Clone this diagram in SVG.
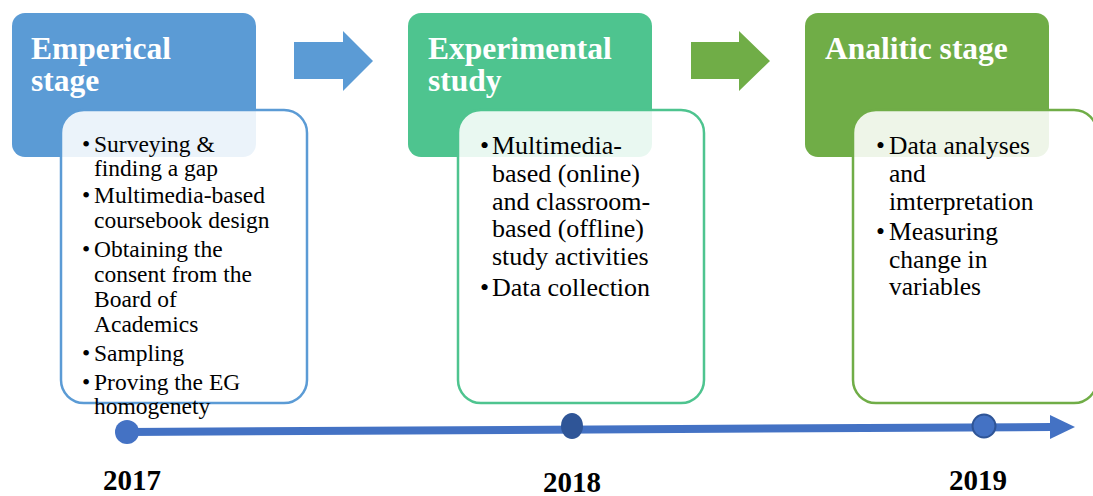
<svg xmlns="http://www.w3.org/2000/svg" width="1093" height="496" viewBox="0 0 1093 496">
<style>
text{font-family:"Liberation Serif","Times New Roman",Tinos,"DejaVu Serif","Noto Serif",serif}
.hd{font-weight:bold;font-size:31.5px;fill:#ffffff}
.bt text{fill:#000000;font-weight:normal;font-style:normal}
.yr{font-weight:bold;font-size:29px;fill:#000000;text-anchor:middle}
.card{fill:#ffffff;fill-opacity:0.88;stroke-width:2.5}
</style>
<rect width="1093" height="496" fill="#ffffff"/>
<g id="connectors">
  <polygon points="294,42 343,42 343,31 373,61 343,91 343,79 294,79" fill="#5B9BD5"/>
  <polygon points="691,42 739,42 739,31 770,61 739,91 739,79 691,79" fill="#70AD47"/>
  <line x1="127" y1="432" x2="1052" y2="427" stroke="#4472C4" stroke-width="8"/>
  <polygon points="1050,415 1075,427 1050,439" fill="#4472C4"/>
  <circle cx="127" cy="432" r="12" fill="#4472C4"/>
  <ellipse cx="572" cy="426" rx="11" ry="13" fill="#2F5597"/>
  <circle cx="984" cy="426" r="11.5" fill="#4472C4" stroke="#2F5597" stroke-width="2"/>
</g>
<g id="stage1">
  <rect x="12" y="13" width="244" height="144" rx="13" fill="#5B9BD5"/>
  <text class="hd" x="31" y="59">Emperical</text>
  <text class="hd" x="31" y="91">stage</text>
  <rect class="card" x="61" y="110" width="246" height="293" rx="23" stroke="#5B9BD5"/>
  <g class="bt" font-size="23.5">
    <text x="82" y="152">•</text><text x="94" y="152">Surveying &amp;</text>
    <text x="94" y="176">finding a gap</text>
    <text x="82" y="203">•</text><text x="94" y="203">Multimedia-based</text>
    <text x="94" y="228">coursebook design</text>
    <text x="82" y="257">•</text><text x="94" y="257">Obtaining the</text>
    <text x="94" y="282">consent from the</text>
    <text x="94" y="307">Board of</text>
    <text x="94" y="332">Academics</text>
    <text x="82" y="361">•</text><text x="94" y="361">Sampling</text>
    <text x="82" y="390">•</text><text x="94" y="390">Proving the EG</text>
    <text x="94" y="414">homogenety</text>
  </g>
</g>
<g id="stage2">
  <rect x="408" y="13" width="244" height="144" rx="13" fill="#4EC48F"/>
  <text class="hd" x="428" y="59">Experimental</text>
  <text class="hd" x="428" y="91">study</text>
  <rect class="card" x="458" y="110" width="246" height="293" rx="23" stroke="#4EC48F"/>
  <g class="bt" font-size="26">
    <text x="480" y="154">•</text><text x="492" y="154">Multimedia-</text>
    <text x="492" y="182">based (online)</text>
    <text x="492" y="210">and classroom-</text>
    <text x="492" y="237">based (offline)</text>
    <text x="492" y="265">study activities</text>
    <text x="480" y="296">•</text><text x="492" y="296">Data collection</text>
  </g>
</g>
<g id="stage3">
  <rect x="805" y="13" width="244" height="144" rx="13" fill="#70AD47"/>
  <text class="hd" x="825" y="59">Analitic stage</text>
  <rect class="card" x="853" y="110" width="244" height="293" rx="23" stroke="#70AD47"/>
  <g class="bt" font-size="25.5">
    <text x="876" y="154">•</text><text x="889" y="154">Data analyses</text>
    <text x="889" y="182">and</text>
    <text x="889" y="210">imterpretation</text>
    <text x="876" y="240">•</text><text x="889" y="240">Measuring</text>
    <text x="889" y="268">change in</text>
    <text x="889" y="295">variables</text>
  </g>
</g>
<g id="years">
  <text class="yr" x="132" y="490">2017</text>
  <text class="yr" x="572" y="492">2018</text>
  <text class="yr" x="978" y="490">2019</text>
</g>
</svg>
